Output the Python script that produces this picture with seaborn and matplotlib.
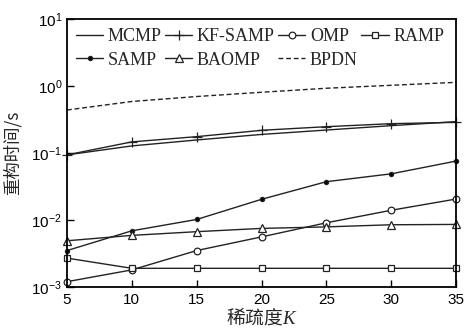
import numpy as np
import pandas as pd
import seaborn as sns
import matplotlib
matplotlib.use("Agg")
import matplotlib.pyplot as plt
from matplotlib.ticker import LogLocator, NullLocator, LogFormatterSciNotation

K = [5, 10, 15, 20, 25, 30, 35]
MCMP = [0.094, 0.128, 0.157, 0.19, 0.221, 0.257, 0.295]
KF_SAMP = [0.094, 0.147, 0.176, 0.219, 0.248, 0.275, 0.288]
OMP = [0.0012, 0.0018, 0.0035, 0.0056, 0.0091, 0.014, 0.0206]
RAMP = [0.0027, 0.0019, 0.0019, 0.0019, 0.0019, 0.0019, 0.0019]
SAMP = [0.0035, 0.0069, 0.0102, 0.0204, 0.0374, 0.049, 0.076]
BAOMP = [0.0049, 0.0059, 0.0067, 0.0075, 0.0079, 0.0085, 0.0086]
BPDN = [0.44, 0.59, 0.70, 0.81, 0.93, 1.03, 1.14]

series = {
    "MCMP": MCMP, "KF-SAMP": KF_SAMP, "OMP": OMP, "RAMP": RAMP,
    "SAMP": SAMP, "BAOMP": BAOMP, "BPDN": BPDN,
}

sns.set_style("ticks")
plt.rcParams["font.family"] = ["Liberation Sans", "DejaVu Sans"]
plt.rcParams["mathtext.fontset"] = "custom"
plt.rcParams["mathtext.rm"] = "Liberation Sans"
plt.rcParams["mathtext.it"] = "Liberation Serif:italic"
plt.rcParams["xtick.direction"] = "in"
plt.rcParams["ytick.direction"] = "in"

fig = plt.figure(figsize=(4.65, 3.31), dpi=100)
ax = fig.add_axes([0.144, 0.133, 0.837, 0.809])

styles = {
    "MCMP": dict(marker=None, linestyle="-"),
    "KF-SAMP": dict(marker="+", markersize=7, linestyle="-"),
    "OMP": dict(marker="o", markersize=4.8, markerfacecolor="white", linestyle="-"),
    "RAMP": dict(marker="s", markersize=4.5, markerfacecolor="white", linestyle="-"),
    "SAMP": dict(marker="o", markersize=3, markerfacecolor="black", linestyle="-"),
    "BAOMP": dict(marker="^", markersize=5.5, markerfacecolor="white", linestyle="-"),
    "BPDN": dict(marker=None, linestyle=(0, (3.5, 2))),
}

for name, vals in series.items():
    df = pd.DataFrame({"K": K, "t": vals})
    st = styles[name]
    sns.lineplot(data=df, x="K", y="t", ax=ax, color="#222222", linewidth=1.0,
                 markeredgecolor="#222222", markeredgewidth=0.9, clip_on=False,
                 label=name, **st)

ax.set_yscale("log")
ax.set_ylim(1e-3, 1e1)
ax.set_xlim(5, 35)
ax.set_xticks(K)
ax.yaxis.set_major_locator(LogLocator(base=10, numticks=10))
ax.yaxis.set_minor_locator(NullLocator())
ax.yaxis.set_major_formatter(LogFormatterSciNotation())
ax.tick_params(axis="both", labelsize=11, length=5, width=1.0, colors="black")
ax.tick_params(axis="x", pad=4)
for s in ax.spines.values():
    s.set_linewidth(1.3)
    s.set_color("black")

ax.set_xlabel("稀疏度$K$", family=["Noto Sans CJK SC", "DejaVu Sans"], fontsize=13.5, labelpad=0)
ax.set_ylabel("重构时间/s", family=["Noto Sans CJK SC", "DejaVu Sans"], fontsize=12.5, labelpad=7)

h, l = ax.get_legend_handles_labels()
hd = dict(zip(l, h))
order = ["MCMP", "SAMP", "KF-SAMP", "BAOMP", "OMP", "BPDN", "RAMP"]
ax.legend([hd[o] for o in order], order, loc="upper left", ncol=4, frameon=False,
          prop={"family": "Liberation Serif", "size": 13}, handlelength=1.5,
          handletextpad=0.25, columnspacing=0.2, borderaxespad=0.2, borderpad=0.3,
          labelspacing=0.35)

fig.savefig("out.png", dpi=100)
